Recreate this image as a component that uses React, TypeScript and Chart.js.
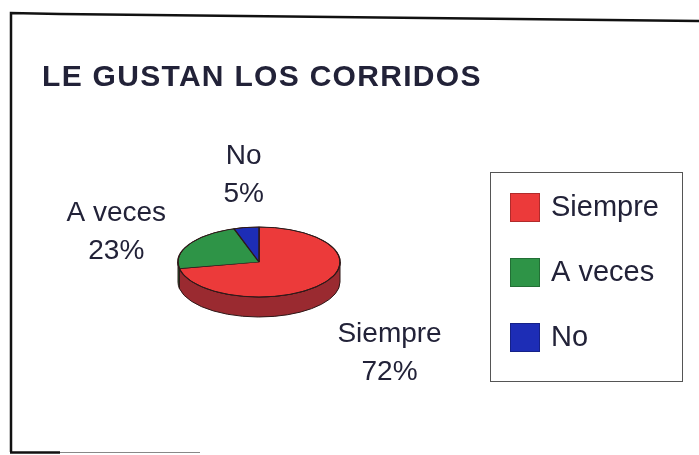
import React, { useEffect, useRef } from "react";
import { Chart, registerables } from "chart.js";

Chart.register(...registerables);

// ---- data ----
const categories = ["Siempre", "A veces", "No"];
const percentages = [72, 23, 5];
const titleText = "LE GUSTAN LOS CORRIDOS";

// ---- styles / layout ----
const W = 699;
const H = 455;
const sliceColors = ["#EC3A3A", "#2E9447", "#1D2DB6"];
const sideColors = ["#9A2A30", "#1E6131", "#121D7A"];
const outline = "#2E1818";
const textColor = "#222238";
const FONT = "'Liberation Sans', Arial, sans-serif";
const SQUASH = 35 / 81; // vertical ratio of the tilted pie
const DEPTH = 20;
const labelRx = 116;
const labelRy = 50;
const labelNudge = [
  { dx: 1, dy: 15 },
  { dx: 0, dy: 15 },
  { dx: 6, dy: 0 },
];

const pie3d = {
  id: "pie3d",
  beforeDatasetsDraw(chart: any) {
    const ctx = chart.ctx as CanvasRenderingContext2D;
    const meta = chart.getDatasetMeta(0);
    const first = meta.data[0];
    if (!first) return;
    ctx.save();
    meta.data.forEach((arc: any, i: number) => {
      const { x, y, startAngle, endAngle, outerRadius } = arc.getProps(
        ["x", "y", "startAngle", "endAngle", "outerRadius"],
        true
      );
      const ry = outerRadius * SQUASH;
      for (let k = -1; k <= 1; k++) {
        const lo = Math.max(startAngle, k * 2 * Math.PI);
        const hi = Math.min(endAngle, k * 2 * Math.PI + Math.PI);
        if (hi > lo) {
          ctx.beginPath();
          ctx.ellipse(x, y, outerRadius, ry, 0, lo, hi);
          ctx.ellipse(x, y + DEPTH, outerRadius, ry, 0, hi, lo, true);
          ctx.closePath();
          ctx.fillStyle = sideColors[i];
          ctx.fill();
          ctx.lineWidth = 1;
          ctx.strokeStyle = outline;
          ctx.stroke();
        }
      }
    });
    ctx.restore();
    const { x, y } = first.getProps(["x", "y"], true);
    ctx.save();
    ctx.translate(x, y);
    ctx.scale(1, SQUASH);
    ctx.translate(-x, -y);
  },
  afterDatasetsDraw(chart: any) {
    const ctx = chart.ctx as CanvasRenderingContext2D;
    ctx.restore();
    const meta = chart.getDatasetMeta(0);
    const first = meta.data[0];
    if (!first) return;
    const { x, y, outerRadius } = first.getProps(["x", "y", "outerRadius"], true);
    ctx.save();
    ctx.beginPath();
    ctx.ellipse(x, y, outerRadius, outerRadius * SQUASH, 0, 0, Math.PI * 2);
    ctx.lineWidth = 1;
    ctx.strokeStyle = outline;
    ctx.stroke();

    // data labels
    ctx.font = `28px ${FONT}`;
    ctx.fillStyle = textColor;
    ctx.textAlign = "center";
    ctx.textBaseline = "middle";
    const total = percentages.reduce((a, b) => a + b, 0);
    meta.data.forEach((arc: any, i: number) => {
      const { startAngle, endAngle } = arc.getProps(["startAngle", "endAngle"], true);
      const a = (startAngle + endAngle) / 2;
      const c = Math.cos(a);
      const s = Math.sin(a);
      const l1 = chart.data.labels[i];
      const l2 = Math.round((chart.data.datasets[0].data[i] / total) * 100) + "%";
      const w = Math.max(ctx.measureText(l1).width, ctx.measureText(l2).width);
      const h = 76;
      const ax = x + labelRx * c;
      const ay = y + labelRy * s + (s > 0 ? DEPTH : 0);
      const bx = ax + (w / 2) * c + labelNudge[i].dx;
      const by = ay + (h / 2) * s + labelNudge[i].dy;
      ctx.fillText(l1, bx, by - 19);
      ctx.fillText(l2, bx, by + 19);
    });
    ctx.restore();
  },
  afterDraw(chart: any) {
    const ctx = chart.ctx as CanvasRenderingContext2D;
    ctx.save();
    // outer frame
    ctx.strokeStyle = "#111";
    ctx.lineWidth = 2.5;
    ctx.beginPath();
    ctx.moveTo(11, 452);
    ctx.lineTo(11, 13);
    ctx.lineTo(60, 14);
    ctx.lineTo(699, 21);
    ctx.stroke();
    ctx.beginPath();
    ctx.moveTo(10, 452.5);
    ctx.lineTo(60, 452.5);
    ctx.stroke();
    ctx.strokeStyle = "#888";
    ctx.lineWidth = 1;
    ctx.beginPath();
    ctx.moveTo(60, 452.5);
    ctx.lineTo(200, 452.5);
    ctx.stroke();

    // title
    ctx.fillStyle = textColor;
    ctx.font = `bold 30px ${FONT}`;
    (ctx as any).letterSpacing = "1.3px";
    ctx.textAlign = "left";
    ctx.textBaseline = "alphabetic";
    ctx.fillText(titleText, 42, 86);
    (ctx as any).letterSpacing = "0px";

    // legend
    ctx.strokeStyle = "#555";
    ctx.lineWidth = 1;
    ctx.strokeRect(490.5, 172.5, 192, 209);
    ctx.font = `29px ${FONT}`;
    ctx.textBaseline = "middle";
    const colors = chart.data.datasets[0].backgroundColor;
    chart.data.labels.forEach((lab: string, i: number) => {
      const top = 193 + i * 65;
      ctx.fillStyle = colors[i];
      ctx.fillRect(510, top, 30, 29);
      ctx.strokeStyle = "rgba(0,0,0,0.25)";
      ctx.strokeRect(510.5, top + 0.5, 29, 28);
      ctx.fillStyle = textColor;
      ctx.fillText(lab, 551, top + 15);
    });
    ctx.restore();
  },
};

export default function App() {
  const ref = useRef<HTMLCanvasElement | null>(null);
  useEffect(() => {
    if (!ref.current) return;
    const chart = new Chart(ref.current, {
      type: "pie",
      data: {
        labels: categories,
        datasets: [
          {
            data: percentages,
            backgroundColor: sliceColors,
            borderColor: outline,
            borderWidth: 1.5,
            hoverOffset: 0,
            radius: 81,
          } as any,
        ],
      },
      options: {
        responsive: false,
        animation: false,
        events: [],
        layout: { padding: { left: 178, top: 181, right: 359, bottom: 112 } },
        plugins: {
          legend: { display: false },
          title: { display: false },
          tooltip: { enabled: false },
        },
      },
      plugins: [pie3d],
    });
    return () => chart.destroy();
  }, []);
  return (
    <div style={{ position: "absolute", left: 0, top: 0, width: W, height: H, background: "#fff" }}>
      <canvas ref={ref} width={W} height={H} style={{ display: "block", width: W, height: H }} />
    </div>
  );
}
